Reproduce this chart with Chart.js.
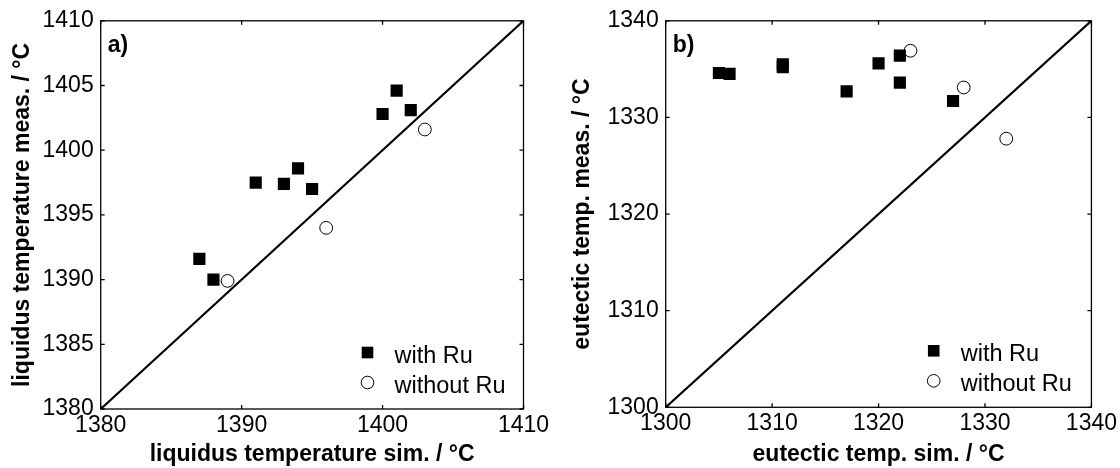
<!DOCTYPE html>
<html>
<head>
<meta charset="utf-8">
<script src="https://cdn.jsdelivr.net/npm/chart.js@4.4.1/dist/chart.umd.min.js"></script>
<style>
  html, body { margin: 0; padding: 0; background: #fff; }
  #wrap { position: relative; width: 1120px; height: 468px; }
  .panel { position: absolute; top: 0; width: 560px; height: 468px; }
</style>
</head>
<body>
<div id="wrap">
  <div class="panel" style="left:0"><canvas id="chartA" width="560" height="468"></canvas></div>
  <div class="panel" style="left:560px"><canvas id="chartB" width="560" height="468"></canvas></div>
</div>
<script>
// ---- panel a) liquidus temperature ----
const liqSimWithRu  = [1387, 1388, 1391, 1393, 1394, 1395, 1400, 1401, 1402];
const liqMeasWithRu = [1391.6, 1390.0, 1397.5, 1397.4, 1398.6, 1397.0, 1402.8, 1404.6, 1403.1];
const liqSimNoRu    = [1389, 1396, 1403];
const liqMeasNoRu   = [1389.9, 1394.0, 1401.6];
const liqRange      = [1380, 1410];
const liqXTicks     = [1380, 1390, 1400, 1410];
const liqYTicks     = [1380, 1385, 1390, 1395, 1400, 1405, 1410];

// ---- panel b) eutectic temperature ----
const eutSimWithRu  = [1305, 1306, 1311, 1311, 1317, 1320, 1322, 1322, 1327];
const eutMeasWithRu = [1334.6, 1334.5, 1335.5, 1335.2, 1332.7, 1335.6, 1336.4, 1333.6, 1331.7];
const eutSimNoRu    = [1323, 1328, 1332];
const eutMeasNoRu   = [1336.9, 1333.1, 1327.8];
const eutRange      = [1300, 1340];
const eutTicks      = [1300, 1310, 1320, 1330, 1340];

const seriesLabels = ['with Ru', 'without Ru'];

Chart.defaults.font.family = "'Liberation Sans', Arial, sans-serif";
Chart.defaults.color = '#000';

const toPoints = (xs, ys) => xs.map((v, i) => ({ x: v, y: ys[i] }));

// Frame around the plot area with inward tick marks on all four sides,
// plus the panel tag and the marker legend.
const framePlugin = {
  id: 'frame',
  afterDraw(chart, args, opts) {
    const { ctx, chartArea: a, scales: { x, y } } = chart;
    ctx.save();
    ctx.strokeStyle = '#000';
    ctx.lineWidth = 1.3;
    ctx.strokeRect(a.left, a.top, a.right - a.left, a.bottom - a.top);
    const tl = 4;
    ctx.beginPath();
    x.ticks.forEach(t => {
      const px = x.getPixelForValue(t.value);
      ctx.moveTo(px, a.bottom); ctx.lineTo(px, a.bottom - tl);
      ctx.moveTo(px, a.top);    ctx.lineTo(px, a.top + tl);
    });
    y.ticks.forEach(t => {
      const py = y.getPixelForValue(t.value);
      ctx.moveTo(a.left, py);  ctx.lineTo(a.left + tl, py);
      ctx.moveTo(a.right, py); ctx.lineTo(a.right - tl, py);
    });
    ctx.stroke();

    // panel tag
    ctx.fillStyle = '#000';
    ctx.font = "bold 23px 'Liberation Sans', Arial, sans-serif";
    ctx.textBaseline = 'middle';
    ctx.textAlign = 'left';
    ctx.fillText(opts.tag, a.left + 7, a.top + 25);

    // legend
    const lx = a.right - opts.legendDx;
    let ly = a.bottom - 56.5;
    ctx.font = "23.5px 'Liberation Sans', Arial, sans-serif";
    ctx.textBaseline = 'alphabetic';
    chart.data.datasets.forEach(ds => {
      if (!ds.inLegend) return;
      ctx.beginPath();
      if (ds.pointStyle === 'rect') {
        ctx.fillStyle = '#000';
        ctx.fillRect(lx - 5.8, ly - 5.8, 11.6, 11.6);
      } else {
        ctx.arc(lx, ly, 6.3, 0, Math.PI * 2);
        ctx.fillStyle = '#fff';
        ctx.fill();
        ctx.strokeStyle = '#000';
        ctx.lineWidth = 1;
        ctx.stroke();
      }
      ctx.fillStyle = '#000';
      ctx.fillText(ds.label, lx + 27, ly + 10.5);
      ly += 30;
    });
    ctx.restore();
  }
};

function makeChart(id, cfg) {
  const lo = cfg.range[0], hi = cfg.range[1];
  return new Chart(document.getElementById(id), {
    type: 'scatter',
    data: {
      datasets: [
        {
          label: seriesLabels[0], inLegend: true,
          data: toPoints(cfg.simWith, cfg.measWith),
          pointStyle: 'rect', pointRadius: 8.6, pointHoverRadius: 8.6,
          backgroundColor: '#000', borderWidth: 0
        },
        {
          label: seriesLabels[1], inLegend: true,
          data: toPoints(cfg.simNo, cfg.measNo),
          pointStyle: 'circle', pointRadius: 6.4, pointHoverRadius: 6.4,
          backgroundColor: '#fff', borderColor: '#000', borderWidth: 1
        },
        {
          type: 'line', label: 'parity', inLegend: false,
          data: [{ x: lo, y: lo }, { x: hi, y: hi }],
          borderColor: '#000', borderWidth: 2.2, pointRadius: 0, fill: false
        }
      ]
    },
    options: {
      responsive: false,
      devicePixelRatio: 1,
      animation: false,
      events: [],
      layout: { padding: { left: 0, right: cfg.padRight, top: cfg.padTop, bottom: 0 } },
      plugins: {
        legend: { display: false },
        tooltip: { enabled: false },
        frame: { tag: cfg.tag, legendDx: cfg.legendDx }
      },
      scales: {
        x: {
          type: 'linear', min: lo, max: hi,
          afterBuildTicks: s => { s.ticks = cfg.xTicks.map(v => ({ value: v })); },
          afterFit: s => { s.height = cfg.xAxisH; },
          grid: { display: false, drawTicks: false },
          border: { display: false },
          ticks: { font: { size: 23 }, padding: 3, autoSkip: false, maxRotation: 0,
                   callback: v => String(v) },
          title: { display: true, text: cfg.xTitle, font: { size: 23, weight: 'bold' },
                   padding: { top: 1, bottom: 0 } }
        },
        y: {
          type: 'linear', min: lo, max: hi,
          afterBuildTicks: s => { s.ticks = cfg.yTicks.map(v => ({ value: v })); },
          afterFit: s => { s.width = cfg.yAxisW; },
          grid: { display: false, drawTicks: false },
          border: { display: false },
          ticks: { font: { size: 23 }, padding: 7, autoSkip: false,
                   callback: v => String(v) },
          title: { display: true, text: cfg.yTitle, font: { size: 23, weight: 'bold' },
                   padding: { top: 9, bottom: 0 } }
        }
      }
    },
    plugins: [framePlugin]
  });
}

makeChart('chartA', {
  tag: 'a)', range: liqRange, xTicks: liqXTicks, yTicks: liqYTicks,
  simWith: liqSimWithRu, measWith: liqMeasWithRu, simNo: liqSimNoRu, measNo: liqMeasNoRu,
  xTitle: 'liquidus temperature sim. / °C', yTitle: 'liquidus temperature meas. / °C',
  padRight: 36.5, padTop: 17.5, yAxisW: 100.7, xAxisH: 59, legendDx: 156
});

makeChart('chartB', {
  tag: 'b)', range: eutRange, xTicks: eutTicks, yTicks: eutTicks,
  simWith: eutSimWithRu, measWith: eutMeasWithRu, simNo: eutSimNoRu, measNo: eutMeasNoRu,
  xTitle: 'eutectic temp. sim. / °C', yTitle: 'eutectic temp. meas. / °C',
  padRight: 28.3, padTop: 17.7, yAxisW: 105.7, xAxisH: 60.7, legendDx: 157.7
});
</script>
</body>
</html>
